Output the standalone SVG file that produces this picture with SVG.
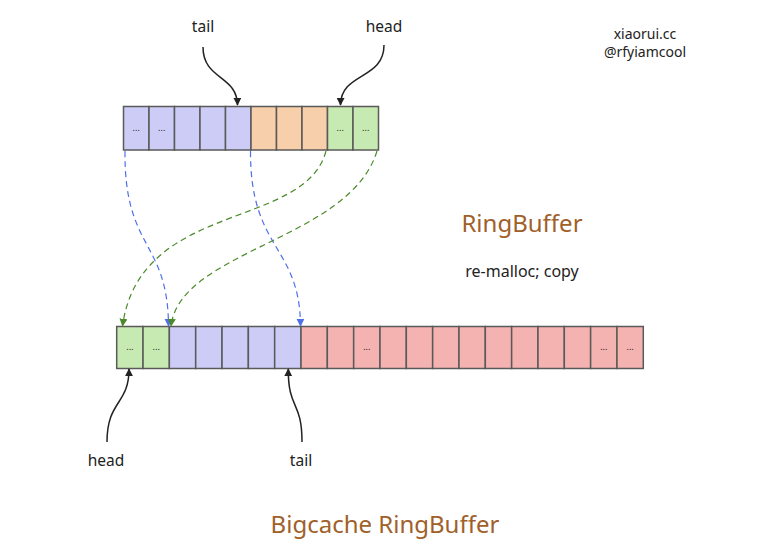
<svg xmlns="http://www.w3.org/2000/svg" width="758" height="558" viewBox="0 0 758 558">
<defs>
<style>
.c{stroke:#5a5a5a;stroke-width:1.5}
.b{fill:#ccccf6}.o{fill:#f8cfab}.g{fill:#c7e9b2}.p{fill:#f4b2b0}
.d{font-family:"Noto Sans","Open Sans",sans-serif;font-size:9px;fill:#222;text-anchor:middle}
.t{font-family:"Noto Sans","Open Sans",sans-serif;fill:#222;text-anchor:middle}
.br{font-family:"Noto Sans","Open Sans",sans-serif;fill:#a0602a;text-anchor:middle}
.k{fill:none;stroke:#222;stroke-width:1.5}
.db{fill:none;stroke:#5070e8;stroke-width:1.2;stroke-dasharray:6 4}
.dg{fill:none;stroke:#4a8a2a;stroke-width:1.2;stroke-dasharray:6 4}
</style>
<marker id="ak" viewBox="0 0 10 10" refX="9" refY="5" markerWidth="8" markerHeight="8" orient="auto" markerUnits="userSpaceOnUse"><path d="M0,0L10,5L0,10z" fill="#222"/></marker>
<marker id="ab" viewBox="0 0 10 10" refX="9" refY="5" markerWidth="8" markerHeight="8" orient="auto" markerUnits="userSpaceOnUse"><path d="M0,0L10,5L0,10z" fill="#5070e8"/></marker>
<marker id="ag" viewBox="0 0 10 10" refX="9" refY="5" markerWidth="8" markerHeight="8" orient="auto" markerUnits="userSpaceOnUse"><path d="M0,0L10,5L0,10z" fill="#4a8a2a"/></marker>
</defs>
<rect width="758" height="558" fill="#fff"/>

<g id="ringbuffer">
<rect class="c b" x="123.5" y="106.5" width="25.5" height="43.5"/>
<rect class="c b" x="149" y="106.5" width="25.5" height="43.5"/>
<rect class="c b" x="174.5" y="106.5" width="25.5" height="43.5"/>
<rect class="c b" x="200" y="106.5" width="25.5" height="43.5"/>
<rect class="c b" x="225.5" y="106.5" width="25.5" height="43.5"/>
<rect class="c o" x="251" y="106.5" width="25.5" height="43.5"/>
<rect class="c o" x="276.5" y="106.5" width="25.5" height="43.5"/>
<rect class="c o" x="302" y="106.5" width="25.5" height="43.5"/>
<rect class="c g" x="327.5" y="106.5" width="25.5" height="43.5"/>
<rect class="c g" x="353" y="106.5" width="25.5" height="43.5"/>
<text class="d" x="136.2" y="131">...</text>
<text class="d" x="161.7" y="131">...</text>
<text class="d" x="340.2" y="131">...</text>
<text class="d" x="365.7" y="131">...</text>
</g>

<g id="bigcache">
<rect class="c g" x="116.7" y="326.5" width="26.33" height="42"/>
<rect class="c g" x="143.03" y="326.5" width="26.33" height="42"/>
<rect class="c b" x="169.36" y="326.5" width="26.33" height="42"/>
<rect class="c b" x="195.69" y="326.5" width="26.33" height="42"/>
<rect class="c b" x="222.02" y="326.5" width="26.33" height="42"/>
<rect class="c b" x="248.35" y="326.5" width="26.33" height="42"/>
<rect class="c b" x="274.68" y="326.5" width="26.33" height="42"/>
<rect class="c p" x="301.01" y="326.5" width="26.33" height="42"/>
<rect class="c p" x="327.34" y="326.5" width="26.33" height="42"/>
<rect class="c p" x="353.67" y="326.5" width="26.33" height="42"/>
<rect class="c p" x="380" y="326.5" width="26.33" height="42"/>
<rect class="c p" x="406.33" y="326.5" width="26.33" height="42"/>
<rect class="c p" x="432.66" y="326.5" width="26.33" height="42"/>
<rect class="c p" x="458.99" y="326.5" width="26.33" height="42"/>
<rect class="c p" x="485.32" y="326.5" width="26.33" height="42"/>
<rect class="c p" x="511.65" y="326.5" width="26.33" height="42"/>
<rect class="c p" x="537.98" y="326.5" width="26.33" height="42"/>
<rect class="c p" x="564.31" y="326.5" width="26.33" height="42"/>
<rect class="c p" x="590.64" y="326.5" width="26.33" height="42"/>
<rect class="c p" x="616.97" y="326.5" width="26.33" height="42"/>
<text class="d" x="129.9" y="350">...</text>
<text class="d" x="156.2" y="350">...</text>
<text class="d" x="366.8" y="350">...</text>
<text class="d" x="603.8" y="350">...</text>
<text class="d" x="630.1" y="350">...</text>
</g>

<g id="labels">
<text class="t" x="203" y="32" font-size="15.5">tail</text>
<text class="t" x="384" y="32" font-size="15.5">head</text>
<text class="t" x="106" y="466" font-size="15.5">head</text>
<text class="t" x="301" y="466" font-size="15.5">tail</text>
<text class="t" x="645" y="39" font-size="14">xiaorui.cc</text>
<text class="t" x="645" y="57" font-size="14">@rfyiamcool</text>
<text class="br" x="522" y="232" font-size="24">RingBuffer</text>
<text class="t" x="522" y="277" font-size="16">re-malloc; copy</text>
<text class="br" x="385" y="533" font-size="24">Bigcache RingBuffer</text>
</g>

<g id="connectors">
<path class="k" d="M203,47 C203,80 237,75 237.5,105" marker-end="url(#ak)"/>
<path class="k" d="M384,45 C384,80 341,72 340.5,105" marker-end="url(#ak)"/>
<path class="k" d="M107,442 C107,400 129,405 129,369" marker-end="url(#ak)"/>
<path class="k" d="M302,442 C302,400 288,410 288.3,369" marker-end="url(#ak)"/>
<path class="db" d="M125,151 C124,250 168,240 168.5,326" marker-end="url(#ab)"/>
<path class="db" d="M250.5,151 C250,250 300,245 300.5,326" marker-end="url(#ab)"/>
<path class="dg" d="M326,151 C305,230 140,200 122.5,326" marker-end="url(#ag)"/>
<path class="dg" d="M377,151 C350,240 180,250 171,326" marker-end="url(#ag)"/>
</g>
</svg>
